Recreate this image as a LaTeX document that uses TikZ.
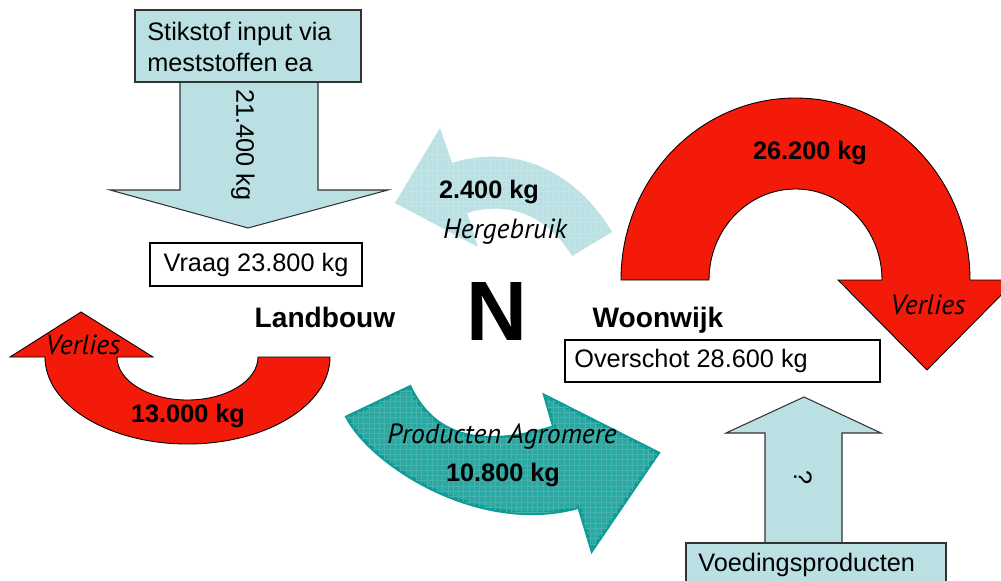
\documentclass[tikz,border=0pt]{standalone}
\usepackage{fontspec}
\setmainfont{Liberation Sans}
\newfontfamily\labelfont{PT Sans}
\usetikzlibrary{patterns}
\definecolor{lichtblauw}{RGB}{186,224,228}
\definecolor{rood}{RGB}{244,26,10}
\definecolor{tealrand}{RGB}{14,154,149}
\definecolor{tealvul}{RGB}{44,168,163}

\begin{document}
\begin{tikzpicture}[x=0.02cm,y=-0.02cm,
    txt/.style={font=\fontsize{14.4}{17.5}\selectfont},
    vet/.style={font=\fontsize{14.4}{17.5}\selectfont\bfseries},
    titel/.style={font=\fontsize{16}{19}\selectfont\bfseries},
    schuin/.style={font=\labelfont\itshape\fontsize{15.8}{19}\selectfont},
    blauw/.style={fill=lichtblauw,draw=black!80,line width=0.6pt},
    verlies/.style={fill=rood,draw=black,line width=0.5pt},
    kader/.style={draw=black,line width=0.7pt,fill=white},
    hergebruikt/.style={fill=lichtblauw,postaction={pattern=grid,pattern color=white!15!lichtblauw}},
    agro/.style={fill=tealvul,draw=tealrand,line width=2pt,line join=miter,
      postaction={pattern=grid,pattern color=white!12!tealvul}}]
  \useasboundingbox (0,0) rectangle (1001,581);
  % input landbouw
  \draw[blauw] (180,82) -- (180,190) -- (110,190) -- (248,228) -- (388,190) -- (318,190) -- (318,82) -- cycle;
  \draw[blauw] (135,10) rectangle (361,82);
  \node[txt,anchor=west,align=left,inner sep=0] (input) at (147,47) {Stikstof input via\\meststoffen ea};
  \node[txt,rotate=-90] (n214) at (243,145) {21.400 kg};
  \draw[kader] (150,243) rectangle (362,286);% vraag
  \node[txt] (vraag) at (256,265) {Vraag 23.800 kg};
  % hergebruik
  \path[hergebruikt] (452,163) .. controls (511,144) and (574,168) .. (612,232) -- (572,256)
    .. controls (548,216) and (509,200) .. (467,213) -- (478,247) -- (395,203) -- (440,128) -- cycle;
  \node[vet] (n24) at (489,192) {2.400 kg};
  \node[schuin] (hergebruik) at (505,232) {Hergebruik};
  % verlies woonwijk
  \draw[verlies] (621,280) arc[start angle=180,end angle=360,x radius=174.5,y radius=182]
    -- (1016,280) -- (927,370) -- (838,280) -- (882,280)
    arc[start angle=360,end angle=180,x radius=86.5,y radius=91] -- cycle;
  \node[vet] (n262) at (810,153) {26.200 kg};
  \node[schuin] (verlies1) at (928,305) {Verlies};
  % verlies landbouw
  \draw[verlies] (330,357) arc[start angle=0,end angle=180,x radius=142.5,y radius=87]
    -- (10,357) -- (81,312) -- (153,357) -- (117,357)
    arc[start angle=180,end angle=0,x radius=70.5,y radius=43] -- cycle;
  \node[vet] (n130) at (188,416) {13.000 kg};
  \node[schuin] (verlies2) at (83,345) {Verlies};
  % producten agromere
  \draw[agro] (347,417) .. controls (372,465) and (480,535) .. (579,507) -- (592,550) -- (658,453)
    -- (545,396) -- (554,427) .. controls (492,446) and (437,444) .. (410,387) -- cycle;
  \node[schuin] (agromere) at (502,437) {Producten Agromere};
  \node[vet] (n108) at (503,475) {10.800 kg};
  % midden
  \node[titel,anchor=base] (landbouw) at (325,327) {Landbouw};
  \node[font=\fontsize{48}{48}\selectfont\bfseries] (stikstof) at (497,311) {N};
  \node[titel,anchor=base] (woonwijk) at (658,327) {Woonwijk};
  \draw[kader] (565,340) rectangle (880,382);% overschot
  \node[txt,anchor=west,inner sep=0] (overschot) at (574,361) {Overschot 28.600 kg};
  % voeding woonwijk
  \draw[blauw] (765,543) -- (765,433) -- (726,433) -- (804,397) -- (881,433) -- (842,433) -- (842,543) -- cycle;
  \node[txt,rotate=-90] (onbekend) at (803,478) {?};
  \draw[blauw] (686,543) rectangle (946,600);
  \node[txt,anchor=west,inner sep=0] (voeding) at (698,565) {Voedingsproducten};
\end{tikzpicture}
\end{document}
